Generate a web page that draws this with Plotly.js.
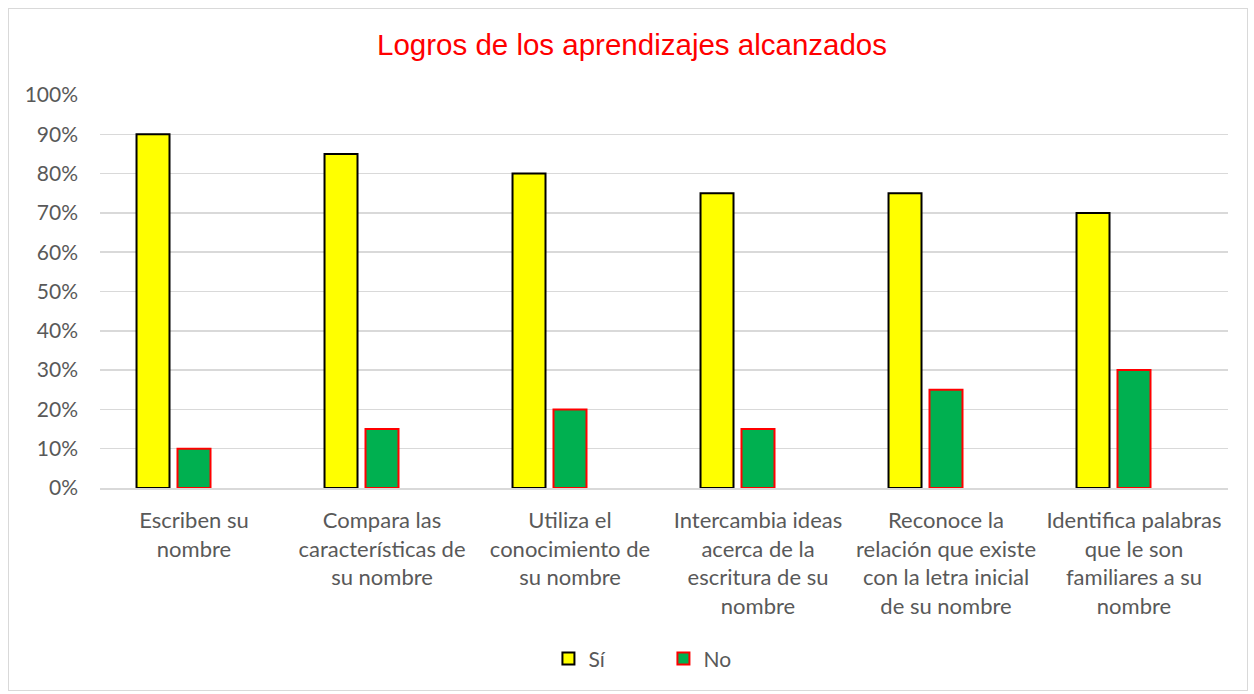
<!DOCTYPE html>
<html><head><meta charset="utf-8">
<script src="https://cdn.plot.ly/plotly-3.0.1.min.js"></script>
<style>body{margin:0;background:#fff}#chart{width:1254px;height:694px}
#frame{position:absolute;left:8px;top:8px;width:1238px;height:681px;border:1px solid #d9d9d9;pointer-events:none}</style>
</head><body><div id="chart"></div><div id="frame"></div>
<script>
const categories = [
  "Escriben su<br>nombre",
  "Compara las<br>características de<br>su nombre",
  "Utiliza el<br>conocimiento de<br>su nombre",
  "Intercambia ideas<br>acerca de la<br>escritura de su<br>nombre",
  "Reconoce la<br>relación que existe<br>con la letra inicial<br>de su nombre",
  "Identifica palabras<br>que le son<br>familiares a su<br>nombre"
];
const siValues = [90, 85, 80, 75, 75, 70];
const noValues = [10, 15, 20, 15, 25, 30];
const emptyValues = [null, null, null, null, null, null];

const fam = "Lato, 'Open Sans', sans-serif";
const yFont = {family: fam, size: 21, color: "#595959"};
const xFont = {family: fam, size: 22, color: "#595959"};
const traces = [
  {type: "bar", name: "Sí", x: categories, y: siValues,
   marker: {color: "#FFFF00", line: {color: "#000000", width: 2}}, hoverinfo: "y"},
  {type: "bar", name: "No", x: categories, y: noValues,
   marker: {color: "#00B050", line: {color: "#FF0000", width: 2}}, hoverinfo: "y"},
  {type: "bar", name: "", x: categories, y: emptyValues, showlegend: false,
   marker: {color: "rgba(0,0,0,0)"}, hoverinfo: "skip"}
];
const layout = {
  width: 1254, height: 694,
  margin: {l: 100, r: 26, t: 95, b: 206},
  paper_bgcolor: "#ffffff", plot_bgcolor: "#ffffff",
  title: {text: "Logros de los aprendizajes alcanzados", x: 0.504, xanchor: "center", y: 0.935, yanchor: "middle",
          font: {family: "'Liberation Sans', Arial, sans-serif", size: 29.5, color: "#FF0000"}},
  barmode: "group", bargap: 0.346, bargroupgap: 0.195,
  xaxis: {type: "category", tickfont: xFont, showgrid: false, showline: true, linecolor: "#d9d9d9", linewidth: 1.5,
          ticks: "", ticklabelstandoff: 12, automargin: false},
  yaxis: {range: [0, 100], dtick: 10, ticksuffix: "%", tickfont: yFont, showgrid: true, gridcolor: "#d9d9d9", gridwidth: 1.5,
          zeroline: false, showline: false, ticks: "", ticklabelstandoff: 21, automargin: false},
  showlegend: true,
  legend: {orientation: "h", x: 0.4995, xanchor: "center", y: -0.435, yanchor: "middle", font: yFont,
           entrywidth: 70, entrywidthmode: "pixels", traceorder: "normal"}
};
Plotly.newPlot("chart", traces, layout, {displayModeBar: false, staticPlot: true});
</script></body></html>
